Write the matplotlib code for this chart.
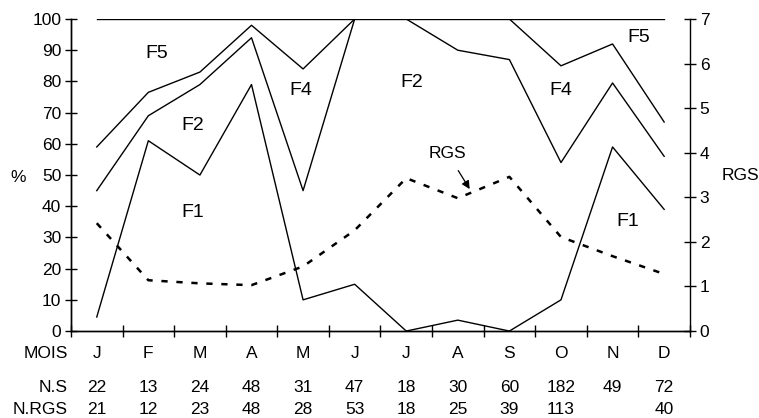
import matplotlib
matplotlib.use("Agg")
from matplotlib import pyplot as plt
from matplotlib.transforms import blended_transform_factory

plt.rcParams['font.family'] = ['Liberation Sans', 'DejaVu Sans']

months = ["J", "F", "M", "A", "M", "J", "J", "A", "S", "O", "N", "D"]
n_s = ["22", "13", "24", "48", "31", "47", "18", "30", "60", "182", "49", "72"]
n_rgs = ["21", "12", "23", "48", "28", "53", "18", "25", "39", "113", "", "40"]

# cumulative limits between stages (%)
line_f1 = [4.5, 61, 50, 79, 10, 15, 0, 3.5, 0, 10, 59, 39]
line_f2 = [45, 69, 79, 94, 45, 100, 100, 90, 87, 54, 79.5, 56]
line_f4 = [59, 76.5, 83, 98, 84, 100, 100, 100, 100, 85, 92, 67]
line_top = [100] * 12
rgs = [2.42, 1.14, 1.07, 1.03, 1.45, 2.26, 3.43, 2.98, 3.46, 2.11, 1.68, 1.28]

x = [i + 0.5 for i in range(12)]
fs = 12.5

fig = plt.figure(figsize=(7.59, 4.18), dpi=100)
ax = fig.add_axes([0.0935, 0.208, 0.8155, 0.7465])
ax2 = ax.twinx()

for ln in (line_f1, line_f2, line_f4, line_top):
	ax.plot(x, ln, color="black", lw=1.0)
ax2.plot(x, rgs, color="black", lw=1.8, dashes=(2.5, 3.5))

ax.set_xlim(0, 12)
ax.set_ylim(0, 100)
ax2.set_ylim(0, 7)
ax.set_yticks(range(0, 101, 10))
ax2.set_yticks(range(0, 8))
ax.set_xticks(range(0, 13))
ax.set_xticklabels([])

for a in (ax, ax2):
	a.spines["top"].set_visible(False)
	for s in a.spines.values():
		s.set_linewidth(1.0)
ax.tick_params(axis="both", direction="inout", length=8, width=1.0, labelsize=fs, pad=3)
ax2.tick_params(axis="y", direction="inout", length=8, width=1.0, labelsize=fs, pad=3)
ax.spines["right"].set_visible(False)

fig.text(18 / 759, 1 - 178 / 418, "%", fontsize=fs, ha="center", va="center")
fig.text(740 / 759, 1 - 175 / 418, "RGS", fontsize=fs, ha="center", va="center")

# area labels
labels = [("F5", 1.67, 89), ("F2", 2.36, 66), ("F1", 2.36, 38), ("F4", 4.46, 77),
	("F2", 6.6, 79.5), ("F4", 9.5, 77), ("F5", 11.0, 94), ("F1", 10.8, 35)]
for t, lx, ly in labels:
	ax.text(lx, ly, t, fontsize=14, ha="center", va="center")

ax.annotate("RGS", xy=(7.73, 45.5), xytext=(7.3, 57), fontsize=fs, ha="center", va="center",
	arrowprops=dict(arrowstyle="-|>", color="black", lw=0.9, mutation_scale=12, shrinkA=6, shrinkB=0))

# table under the axis
tr = blended_transform_factory(ax.transData, fig.transFigure)
rows = [("MOIS", months, 1 - 353 / 418), ("N.S", n_s, 1 - 387 / 418), ("N.RGS", n_rgs, 1 - 410 / 418)]
for name, vals, yy in rows:
	fig.text(68 / 759, yy, name, fontsize=fs, ha="right", va="center")
	for xi, v in zip(x, vals):
		ax.text(xi, yy, v, transform=tr, fontsize=fs, ha="center", va="center", clip_on=False)

fig.savefig("out.png", dpi=100)
